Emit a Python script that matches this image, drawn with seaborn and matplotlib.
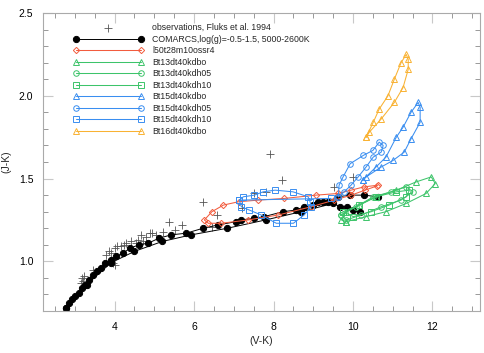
import matplotlib
matplotlib.use("Agg")
import matplotlib.pyplot as plt
import seaborn as sns
import pandas as pd
from matplotlib.ticker import MultipleLocator

# ---------------- data ----------------
obs_vk = [7.92, 8.22, 6.22, 7.52, 7.82, 6.58, 10.0, 9.51, 7.20, 5.38, 5.69, 5.51,
          5.23, 4.88, 5.05, 6.44, 4.67, 4.80, 4.95, 4.60, 4.55, 4.30, 4.24, 4.05,
          4.00, 4.17, 3.87, 3.79, 3.92, 3.97, 4.00, 3.79, 3.72, 3.46, 3.24, 3.19,
          3.21, 3.16, 4.72, 4.42]
obs_jk = [1.65, 1.49, 1.36, 1.41, 1.42, 1.28, 1.51, 1.45, 1.32, 1.24, 1.22, 1.19,
          1.18, 1.17, 1.16, 1.21, 1.16, 1.15, 1.17, 1.13, 1.11, 1.11, 1.10, 1.09,
          1.08, 1.09, 1.06, 1.04, 1.05, 0.99, 0.98, 0.99, 0.97, 0.95, 0.91, 0.90,
          0.88, 0.87, 1.12, 1.12]

com_a_vk = [2.79, 2.86, 2.94, 3.01, 3.11, 3.19, 3.26, 3.36, 3.46, 3.56, 3.67, 3.77,
            3.92, 4.04, 4.22, 4.39, 4.62, 4.85, 5.12, 5.43, 5.80, 6.23, 6.61, 7.06,
            7.19, 7.51, 7.76, 8.24, 8.57, 8.77, 9.00, 9.12, 9.25, 9.37, 9.62, 9.93,
            10.28, 10.63]
com_a_jk = [0.72, 0.75, 0.77, 0.79, 0.81, 0.84, 0.86, 0.89, 0.92, 0.94, 0.96, 0.99,
            1.01, 1.03, 1.05, 1.08, 1.10, 1.11, 1.14, 1.16, 1.17, 1.20, 1.22, 1.24,
            1.25, 1.26, 1.27, 1.30, 1.31, 1.33, 1.34, 1.36, 1.36, 1.36, 1.39, 1.40,
            1.40, 1.39]
com_b_vk = [2.79, 3.30, 3.90, 4.50, 5.20, 5.93, 6.84, 7.80, 8.70, 9.50, 9.68, 9.86,
            10.00, 10.18]
com_b_jk = [0.72, 0.86, 0.99, 1.06, 1.12, 1.16, 1.20, 1.25, 1.30, 1.35, 1.33, 1.33,
            1.31, 1.30]

l50_vk = [10.63, 10.28, 9.95, 9.63, 9.07, 8.27, 7.62, 7.12, 6.74, 6.45, 6.26, 6.36,
          6.69, 7.36, 8.12, 8.95, 9.53, 9.96, 10.30, 10.60]
l50_jk = [1.46, 1.45, 1.43, 1.41, 1.40, 1.38, 1.37, 1.36, 1.34, 1.30, 1.25, 1.23,
          1.23, 1.25, 1.28, 1.33, 1.37, 1.40, 1.43, 1.455]

g_kdbo_vk = [9.83, 10.33, 10.83, 11.34, 11.84, 12.07, 11.97, 11.59, 11.09, 10.58,
             10.16, 9.83, 9.71, 9.83]
g_kdbo_jk = [1.24, 1.27, 1.30, 1.35, 1.41, 1.47, 1.51, 1.48, 1.43, 1.39,
             1.34, 1.30, 1.25, 1.24]
g_kdh05_vk = [9.71, 10.08, 10.51, 10.96, 11.34, 11.51, 11.21, 10.71, 10.21, 9.83, 9.71]
g_kdh05_jk = [1.28, 1.33, 1.39, 1.42, 1.45, 1.42, 1.37, 1.33, 1.28, 1.25, 1.28]
g_kdh10_vk = [9.75, 10.16, 10.58, 11.09, 11.42, 11.34, 10.91, 10.46, 10.01, 9.75]
g_kdh10_jk = [1.30, 1.34, 1.39, 1.42, 1.43, 1.39, 1.34, 1.30, 1.27, 1.30]

b_kdbo_vk = [10.24, 10.58, 10.83, 11.09, 11.26, 11.46, 11.64, 11.69, 11.69, 11.46,
             11.29, 11.01, 10.71, 10.33, 10.24]
b_kdbo_jk = [1.49, 1.57, 1.63, 1.75, 1.81, 1.90, 1.96, 1.93, 1.84, 1.74,
             1.66, 1.61, 1.57, 1.51, 1.49]
b_kdh05_vk = [9.63, 9.65, 9.75, 9.93, 10.26, 10.50, 10.66, 10.76, 10.71, 10.51,
              10.33, 10.13, 9.95, 9.78, 9.63]
b_kdh05_jk = [1.39, 1.46, 1.51, 1.59, 1.64, 1.67, 1.72, 1.70, 1.66, 1.63,
              1.57, 1.51, 1.46, 1.42, 1.39]
b_kdh10_vk = [7.14, 7.24, 7.52, 7.74, 8.04, 8.49, 8.87, 8.92, 8.95, 8.77, 8.50,
              8.07, 7.69, 7.39, 7.19, 7.14, 9.45]
b_kdh10_jk = [1.37, 1.39, 1.40, 1.42, 1.43, 1.42, 1.39, 1.36, 1.33, 1.28, 1.23,
              1.23, 1.28, 1.31, 1.33, 1.37, 1.38]

o_kdbo_vk = [10.33, 10.51, 10.66, 10.88, 11.04, 11.21, 11.34, 11.39, 11.39, 11.26,
             11.04, 10.71, 10.41, 10.33]
o_kdbo_jk = [1.75, 1.84, 1.92, 2.00, 2.10, 2.20, 2.25, 2.22, 2.16, 2.05,
             1.96, 1.86, 1.78, 1.75]

labels = ["observations, Fluks et al. 1994",
          "COMARCS,log(g)=-0.5-1.5, 5000-2600K",
          "l50t28m10ossr4",
          "Bt13dt40kdbo", "Bt13dt40kdh05", "Bt13dt40kdh10",
          "Bt15dt40kdbo", "Bt15dt40kdh05", "Bt15dt40kdh10",
          "Bt16dt40kdbo"]

RED, GREEN, BLUE, ORANGE = "#F25C3E", "#3DC46A", "#3A8EF0", "#F9B233"

# ---------------- style ----------------
sns.set_theme(style="ticks")
plt.rcParams["font.family"] = ["Liberation Sans", "DejaVu Sans"]

fig = plt.figure(figsize=(4.85, 3.53), dpi=100)
ax = fig.add_axes([0.0887, 0.119, 0.9013, 0.844])

sns.scatterplot(x=obs_vk, y=obs_jk, marker="+", color="#555555", s=40,
                linewidth=0.6, label=labels[0], ax=ax, zorder=2)


def track(x, y, color, marker, label, ms=4.0, lw=0.75, filled=False):
    df = pd.DataFrame({"x": x, "y": y})
    sns.lineplot(data=df, x="x", y="y", sort=False, estimator=None, color=color,
                 marker=marker, markersize=ms, linewidth=lw,
                 markerfacecolor=color if filled else "none",
                 markeredgecolor=color, markeredgewidth=0.7,
                 label=label, ax=ax, legend=False)


track(com_a_vk, com_a_jk, "black", "o", labels[1], ms=4.5, filled=True, lw=0.7)
track(com_b_vk, com_b_jk, "black", "o", "_nolegend_", ms=4.5, filled=True, lw=0.7)
track(l50_vk, l50_jk, RED, "D", labels[2], ms=3.2)
track(g_kdbo_vk, g_kdbo_jk, GREEN, "^", labels[3])
track(g_kdh05_vk, g_kdh05_jk, GREEN, "o", labels[4])
track(g_kdh10_vk, g_kdh10_jk, GREEN, "s", labels[5])
track(b_kdbo_vk, b_kdbo_jk, BLUE, "^", labels[6])
track(b_kdh05_vk, b_kdh05_jk, BLUE, "o", labels[7])
track(b_kdh10_vk, b_kdh10_jk, BLUE, "s", labels[8])
track(o_kdbo_vk, o_kdbo_jk, ORANGE, "^", labels[9])

ax.set_xlim(2.2, 13.2)
ax.set_ylim(0.7, 2.5)
ax.xaxis.set_major_locator(MultipleLocator(2))
ax.xaxis.set_minor_locator(MultipleLocator(0.5))
ax.yaxis.set_major_locator(MultipleLocator(0.5))
ax.yaxis.set_minor_locator(MultipleLocator(0.1))
ax.yaxis.set_major_formatter(matplotlib.ticker.FormatStrFormatter("%.1f"))

ax.tick_params(which="both", direction="in", top=True, right=True,
               labelsize=7.5, colors="#999999", labelcolor="black")
ax.tick_params(which="major", length=7, width=0.8, color="#c8c8c8")
ax.tick_params(which="minor", length=3.5, width=0.7)
ax.tick_params(axis="x", which="major", pad=8)
ax.tick_params(axis="y", which="major", pad=7)
for s in ax.spines.values():
    s.set_color("#aaaaaa")
    s.set_linewidth(0.8)

ax.set_xlabel("(V-K)", fontsize=7.5, labelpad=3)
ax.set_ylabel("(J-K)", fontsize=7.5, labelpad=5)

handles, labs = ax.get_legend_handles_labels()
order = [labs.index(l) for l in labels]
ax.legend([handles[i] for i in order], [labs[i] for i in order],
          loc="upper left", bbox_to_anchor=(0.069, 0.966), frameon=False,
          fontsize=6.3, handlelength=8.0, handletextpad=1.03, labelspacing=0.29,
          numpoints=2, scatterpoints=1, borderpad=0, borderaxespad=0)

fig.savefig("out.png", dpi=100)
